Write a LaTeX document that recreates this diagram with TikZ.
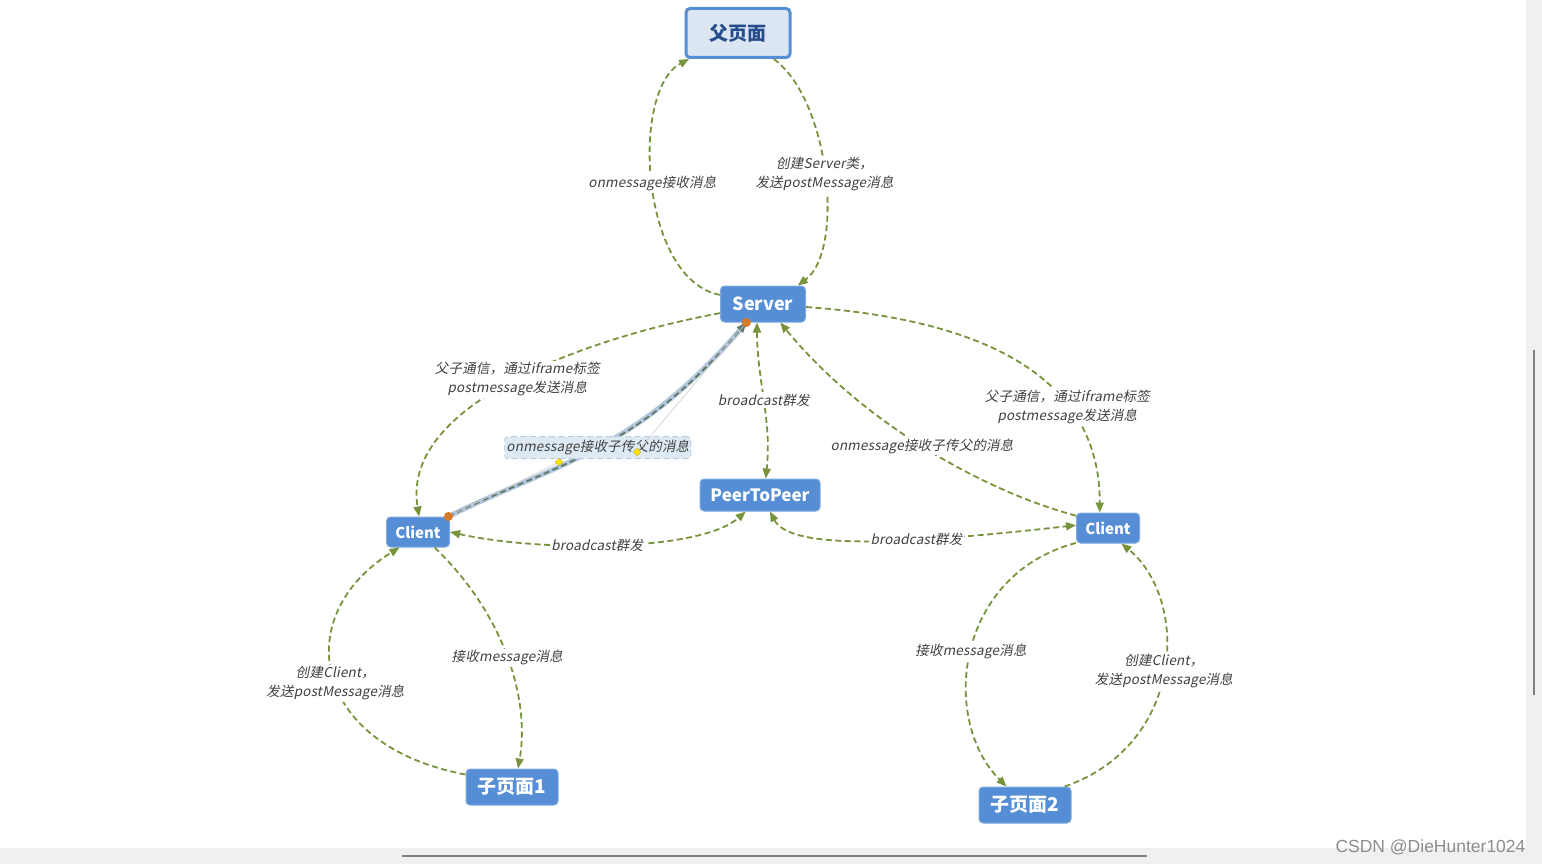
\documentclass[tikz,border=0pt]{standalone}
\usepackage{fontspec}
\setmainfont{Noto Sans CJK SC}
\newfontfamily\lblfont[FakeSlant=0.2,LetterSpace=1.5]{Noto Sans CJK SC}
\newfontfamily\wmfont{Liberation Sans}
\usetikzlibrary{%
  arrows.meta
 ,calc
}
\definecolor{boxblue}{RGB}{85,142,213}
\definecolor{pagefill}{RGB}{220,230,242}
\definecolor{pagetext}{RGB}{38,76,140}
\definecolor{edgegreen}{RGB}{119,147,60}
\definecolor{lblgrey}{RGB}{64,64,64}
\definecolor{winbar}{RGB}{240,240,240}
\definecolor{selgrey}{RGB}{96,120,100}
\definecolor{halocol}{RGB}{178,198,222}
\definecolor{selfill}{RGB}{222,234,243}
\definecolor{seldraw}{RGB}{184,206,226}
\definecolor{dotorange}{RGB}{214,120,40}
\tikzstyle{obj}=[rectangle,rounded corners=4pt,fill=boxblue,draw=boxblue!75!white,line width=1pt,
  text=white,inner sep=0pt,minimum width=85pt,minimum height=36pt,font=\bfseries\fontsize{18}{18}\selectfont]
\tikzstyle{page}=[obj,minimum width=92pt,font=\bfseries\fontsize{19}{19}\selectfont]
\tikzstyle{cli}=[obj,minimum width=63pt,minimum height=30pt,font=\bfseries\fontsize{15}{15}\selectfont]
\tikzstyle{parent}=[obj,fill=pagefill,draw=boxblue,line width=3pt,text=pagetext,
  minimum width=104pt,minimum height=49pt,font=\bfseries\fontsize{19}{19}\selectfont]
\tikzstyle{msg}=[draw=edgegreen,line width=1.8pt,dash pattern=on 6pt off 3.5pt,
  -{Triangle[length=10pt,width=8pt]}]
\tikzstyle{bmsg}=[msg,{Triangle[length=10pt,width=8pt]}-{Triangle[length=10pt,width=8pt]}]
\tikzstyle{lbl}=[fill=white,inner sep=1.5pt,text=lblgrey,align=center,
  font=\lblfont\fontsize{13.5}{19}\selectfont]
\tikzstyle{sellbl}=[lbl,fill=selfill,draw=seldraw,line width=1pt,rounded corners=3pt,
  minimum width=186pt,minimum height=22pt]

\begin{document}
\begin{tikzpicture}[x=1pt,y=-1pt]
  \useasboundingbox (0,0) rectangle (1542,864);
  \fill[winbar] (1526,0) rectangle (1542,864);
  \fill[winbar] (0,848) rectangle (1526,864);
  \draw[gray,line width=2pt] (1534,350) -- (1534,695);
  \draw[gray,line width=2pt] (402,856) -- (1147,856);
  \node[text=gray!90,font=\wmfont\fontsize{17.5}{17.5}\selectfont,anchor=east] (wm) at (1529,847) {CSDN @DieHunter1024};
%
  \node[parent] (p_0) at (738,33)  {父页面};
  \node[obj]    (srv) at (763,304) {Server};
  \node[obj,minimum width=120pt,minimum height=32pt,font=\bfseries\fontsize{17}{17}\selectfont]
                (p2p) at (760,495) {PeerToPeer};
  \node[cli]    (c_1) at (418,532) {Client};
  \node[cli]    (c_2) at (1108,528) {Client};
  \node[page]   (k_1) at (512,787) {子页面1};
  \node[page]   (k_2) at (1025,805) {子页面2};
% parent <-> server
  \draw[msg] (srv.168) .. controls (640,280) and (630,90) .. (p_0.208)
    node[lbl,pos=0.5] {onmessage接收消息};
  \draw[msg] (p_0.324) .. controls (830,100) and (845,250) .. (srv.28)
    node[lbl,pos=0.5] {创建Server类，\\发送postMessage消息};
% server <-> clients
  \draw[msg] (srv.192) .. controls (600,335) and (400,400) .. (c_1.86)
    node[lbl,pos=0.5] {父子通信，通过iframe标签\\postmessage发送消息};
  \draw[msg] (srv.356) .. controls (990,320) and (1100,380) .. (c_2.118)
    node[lbl,pos=0.68] {父子通信，通过iframe标签\\postmessage发送消息};
  \draw[msg] (c_2.159) .. controls (980,490) and (860,420) .. (srv.313)
    node[lbl,pos=0.5] {onmessage接收子传父的消息};
  \draw[halocol,line width=5pt,line cap=round] (c_1.27) .. controls (559,462) and (637,452) .. (srv.228);
  \draw[msg,draw=selgrey] (c_1.27) .. controls (559,462) and (637,452) .. (srv.228)
    node[sellbl,pos=0.5] {onmessage接收子传父的消息};
  \draw[black!20,line width=0.6pt] (c_1.27) -- (559,462);
  \draw[black!20,line width=0.6pt] (srv.228) -- (637,452);
  \fill[yellow!85!orange,draw=yellow!60!black,line width=0.3pt]
    (559,462) +(0,-4) -- +(4,0) -- +(0,4) -- +(-4,0) -- cycle;
  \fill[yellow!85!orange,draw=yellow!60!black,line width=0.3pt]
    (637,452) +(0,-4) -- +(4,0) -- +(0,4) -- +(-4,0) -- cycle;
  \fill[dotorange] (c_1.27) circle (4.5);
  \fill[dotorange] (srv.228) circle (4.5);
% broadcast
  \draw[bmsg] (srv.252) .. controls (757,380) and (772,420) .. (p2p.71)
    node[lbl,pos=0.5] {broadcast群发};
  \draw[bmsg] (c_1.0) .. controls (540,552) and (700,552) .. (p2p.229)
    node[lbl,pos=0.45] {broadcast群发};
  \draw[bmsg] (p2p.301) .. controls (790,550) and (900,545) .. (c_2.175)
    node[lbl,pos=0.65] {broadcast群发};
% clients <-> child pages
  \draw[msg] (k_1.165) .. controls (310,745) and (290,615) .. (c_1.220)
    node[lbl,pos=0.47] {创建Client，\\发送postMessage消息};
  \draw[msg] (c_1.317) .. controls (505,615) and (530,700) .. (k_1.72)
    node[lbl,pos=0.5] {接收message消息};
  \draw[msg] (c_2.205) .. controls (955,575) and (940,720) .. (k_2.135)
    node[lbl,pos=0.5] {接收message消息};
  \draw[msg] (k_2.25) .. controls (1185,745) and (1190,600) .. (c_2.311)
    node[lbl,pos=0.5] {创建Client，\\发送postMessage消息};
\end{tikzpicture}
\end{document}
